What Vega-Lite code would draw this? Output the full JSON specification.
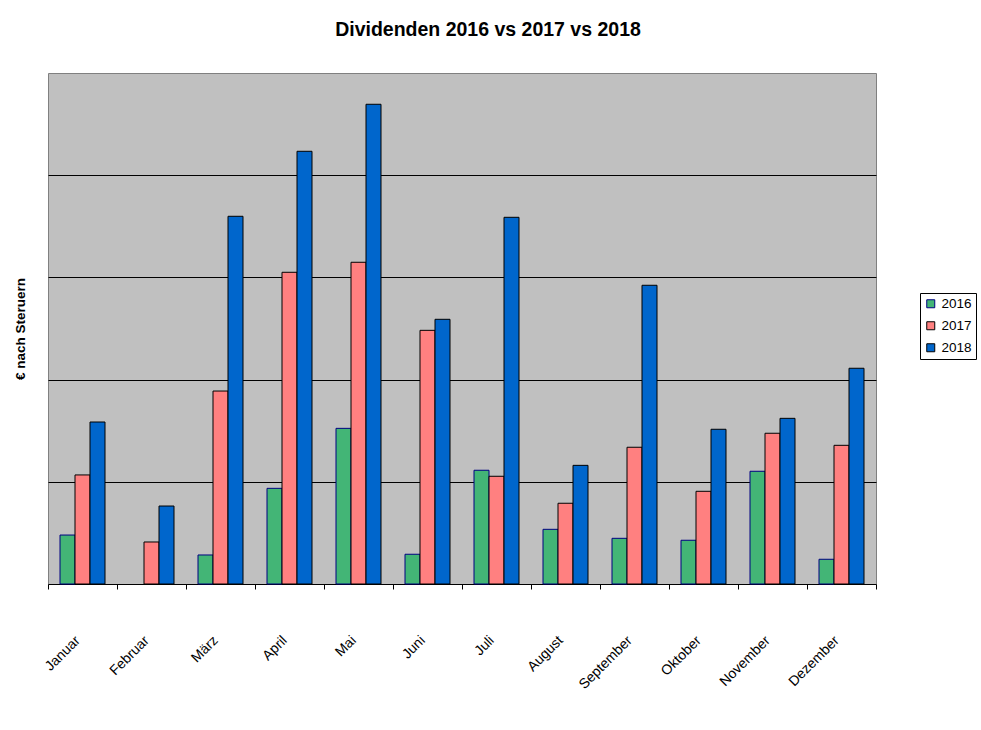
{
  "$schema": "https://vega.github.io/schema/vega-lite/v6.json",
  "autosize": {"type": "none"},
  "padding": {"left": 48, "top": 73, "right": 105, "bottom": 146},
  "width": 828,
  "height": 511,
  "background": "white",
  "config": {
    "font": "Liberation Sans",
    "view": {"stroke": "#808080", "strokeWidth": 1, "fill": "#C0C0C0"}
  },
  "title": {
    "text": "Dividenden 2016 vs 2017 vs 2018",
    "fontSize": 19.5,
    "fontWeight": "bold",
    "color": "black",
    "anchor": "middle",
    "dx": 26,
    "offset": 33
  },
  "data": {
    "values": [
      {"month": "Januar", "year": "2016", "value": 47.9},
      {"month": "Januar", "year": "2017", "value": 106.7},
      {"month": "Januar", "year": "2018", "value": 158.5},
      {"month": "Februar", "year": "2017", "value": 41.1},
      {"month": "Februar", "year": "2018", "value": 76.3},
      {"month": "März", "year": "2016", "value": 28.4},
      {"month": "März", "year": "2017", "value": 188.8},
      {"month": "März", "year": "2018", "value": 359.8},
      {"month": "April", "year": "2016", "value": 93.6},
      {"month": "April", "year": "2017", "value": 305.0},
      {"month": "April", "year": "2018", "value": 423.4},
      {"month": "Mai", "year": "2016", "value": 152.3},
      {"month": "Mai", "year": "2017", "value": 314.8},
      {"month": "Mai", "year": "2018", "value": 469.4},
      {"month": "Juni", "year": "2016", "value": 29.1},
      {"month": "Juni", "year": "2017", "value": 248.2},
      {"month": "Juni", "year": "2018", "value": 259.0},
      {"month": "Juli", "year": "2016", "value": 111.3},
      {"month": "Juli", "year": "2017", "value": 105.4},
      {"month": "Juli", "year": "2018", "value": 358.8},
      {"month": "August", "year": "2016", "value": 53.5},
      {"month": "August", "year": "2017", "value": 79.0},
      {"month": "August", "year": "2018", "value": 116.1},
      {"month": "September", "year": "2016", "value": 44.7},
      {"month": "September", "year": "2017", "value": 133.8},
      {"month": "September", "year": "2018", "value": 292.3},
      {"month": "Oktober", "year": "2016", "value": 42.8},
      {"month": "Oktober", "year": "2017", "value": 90.7},
      {"month": "Oktober", "year": "2018", "value": 151.4},
      {"month": "November", "year": "2016", "value": 110.3},
      {"month": "November", "year": "2017", "value": 147.5},
      {"month": "November", "year": "2018", "value": 162.1},
      {"month": "Dezember", "year": "2016", "value": 24.2},
      {"month": "Dezember", "year": "2017", "value": 135.7},
      {"month": "Dezember", "year": "2018", "value": 211.1}
    ]
  },
  "mark": {"type": "bar", "strokeWidth": 1, "opacity": 1},
  "encoding": {
    "x": {
      "field": "month",
      "type": "nominal",
      "sort": ["Januar", "Februar", "März", "April", "Mai", "Juni", "Juli", "August", "September", "Oktober", "November", "Dezember"],
      "scale": {"paddingInner": 0, "paddingOuter": 0},
      "axis": {
        "title": null,
        "tickBand": "extent",
        "labelAngle": -45,
        "labelAlign": "right",
        "labelBaseline": "middle",
        "labelFontSize": 14,
        "labelColor": "black",
        "labelPadding": 49,
        "labelOffset": -5,
        "tickSize": 5,
        "tickColor": "black",
        "domainColor": "black",
        "domainWidth": 1,
        "grid": false
      }
    },
    "xOffset": {
      "field": "year",
      "type": "nominal",
      "scale": {"paddingInner": 0, "paddingOuter": 0.8}
    },
    "y": {
      "field": "value",
      "type": "quantitative",
      "scale": {"domain": [0, 500], "nice": false},
      "axis": {
        "title": "€ nach Steruern",
        "titleFontSize": 13.5,
        "titleFontWeight": "bold",
        "titleColor": "black",
        "titlePadding": 21,
        "values": [100, 200, 300, 400],
        "labels": false,
        "ticks": false,
        "domain": false,
        "grid": true,
        "gridColor": "black",
        "gridWidth": 1,
        "gridOpacity": 1
      }
    },
    "fill": {
      "field": "year",
      "type": "nominal",
      "scale": {"domain": ["2016", "2017", "2018"], "range": ["#43B576", "#FF8080", "#0066CC"]},
      "legend": {
        "title": null,
        "orient": "none",
        "legendX": 872,
        "legendY": 220,
        "strokeColor": "black",
        "fillColor": "white",
        "padding": 4,
        "symbolType": "square",
        "symbolSize": 64,
        "symbolStrokeWidth": 1,
        "symbolOpacity": 1,
        "labelFontSize": 13.5,
        "labelColor": "black",
        "labelOffset": 4,
        "rowPadding": 7
      }
    },
    "stroke": {
      "field": "year",
      "type": "nominal",
      "scale": {"domain": ["2016", "2017", "2018"], "range": ["#000080", "#000000", "#000000"]}
    }
  }
}
